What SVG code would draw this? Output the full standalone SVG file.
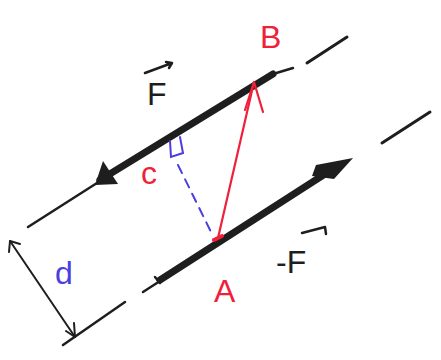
<svg xmlns="http://www.w3.org/2000/svg" width="441" height="360" viewBox="0 0 441 360">
<style>
.ink{stroke:#1e1e1e;fill:none;stroke-linecap:round;stroke-linejoin:round}
.thick{stroke-width:7}
.thin{stroke-width:2.5}
.red{stroke:#f0203a;fill:none;stroke-width:2.2;stroke-linecap:round;stroke-linejoin:round}
.blue{stroke:#4a3ee0;fill:none;stroke-width:2;stroke-linecap:round}
.lbl{font-family:"Liberation Sans",Arial,sans-serif;font-size:32px}
.r{fill:#f0203a}.b{fill:#4a3ee0}.k{fill:#1e1e1e}
</style>
<rect width="441" height="360" fill="#ffffff"/>
<g id="connectors">
  <g id="upper-line">
    <path class="ink thin" d="M28,227 L97,183"/>
    <path class="ink thick" d="M100,180 L273,74"/>
    <path class="ink thin" d="M273,74 L293,68"/>
    <polygon class="k" points="95,185 103,161 118,184"/>
    <path class="ink" stroke-width="3" d="M307,63 L347,37"/>
  </g>
  <g id="lower-line">
    <path class="ink thin" d="M143,292 L160,281"/>
    <path class="ink thin" d="M155,277 L160,283"/>
    <path class="ink thick" d="M160,280 L325,174"/>
    <polygon class="k" points="353,158 316,165 312,176 334,179"/>
    <path class="ink" stroke-width="3" d="M382,143 L430,112"/>
  </g>
  <g id="dimension-d">
    <path class="ink" stroke-width="2" d="M10,241 L75,337"/>
    <path class="ink" stroke-width="2" d="M10,241 L20,244 M10,241 L9,252"/>
    <path class="ink" stroke-width="2" d="M75,337 L74,323 M75,337 L66,331"/>
    <path class="ink" stroke-width="2.5" d="M63,345 L125,302"/>
  </g>
  <g id="perpendicular">
    <path class="blue" stroke-dasharray="9,7" d="M178,165 L213,236"/>
    <path class="blue" d="M170,141 L171,157 L183,153 L180,137"/>
  </g>
  <g id="AB">
    <path class="red" d="M218,238 L254,82"/>
    <path class="red" d="M245,110 L254,82 L263,112"/>
    <path d="M214,240 L222,236" stroke="#f0203a" stroke-width="4" stroke-linecap="round"/>
  </g>
</g>
<g id="label-F">
  <text class="lbl k" x="147" y="105">F</text>
  <path class="ink" stroke-width="2.5" d="M145,73 L172,63 M166,62 L172,63 L169,68"/>
</g>
<g id="label-minusF">
  <text class="lbl k" x="276" y="273">-F</text>
  <path class="ink" stroke-width="2.5" d="M302,233 L325,227 L326,234"/>
</g>
<g id="label-B"><text class="lbl r" x="260" y="48">B</text></g>
<g id="label-A"><text class="lbl r" x="214" y="302" font-size="36">A</text></g>
<g id="label-c"><text class="lbl r" x="141" y="184">c</text></g>
<g id="label-d"><text class="lbl b" x="55" y="284">d</text></g>
</svg>
